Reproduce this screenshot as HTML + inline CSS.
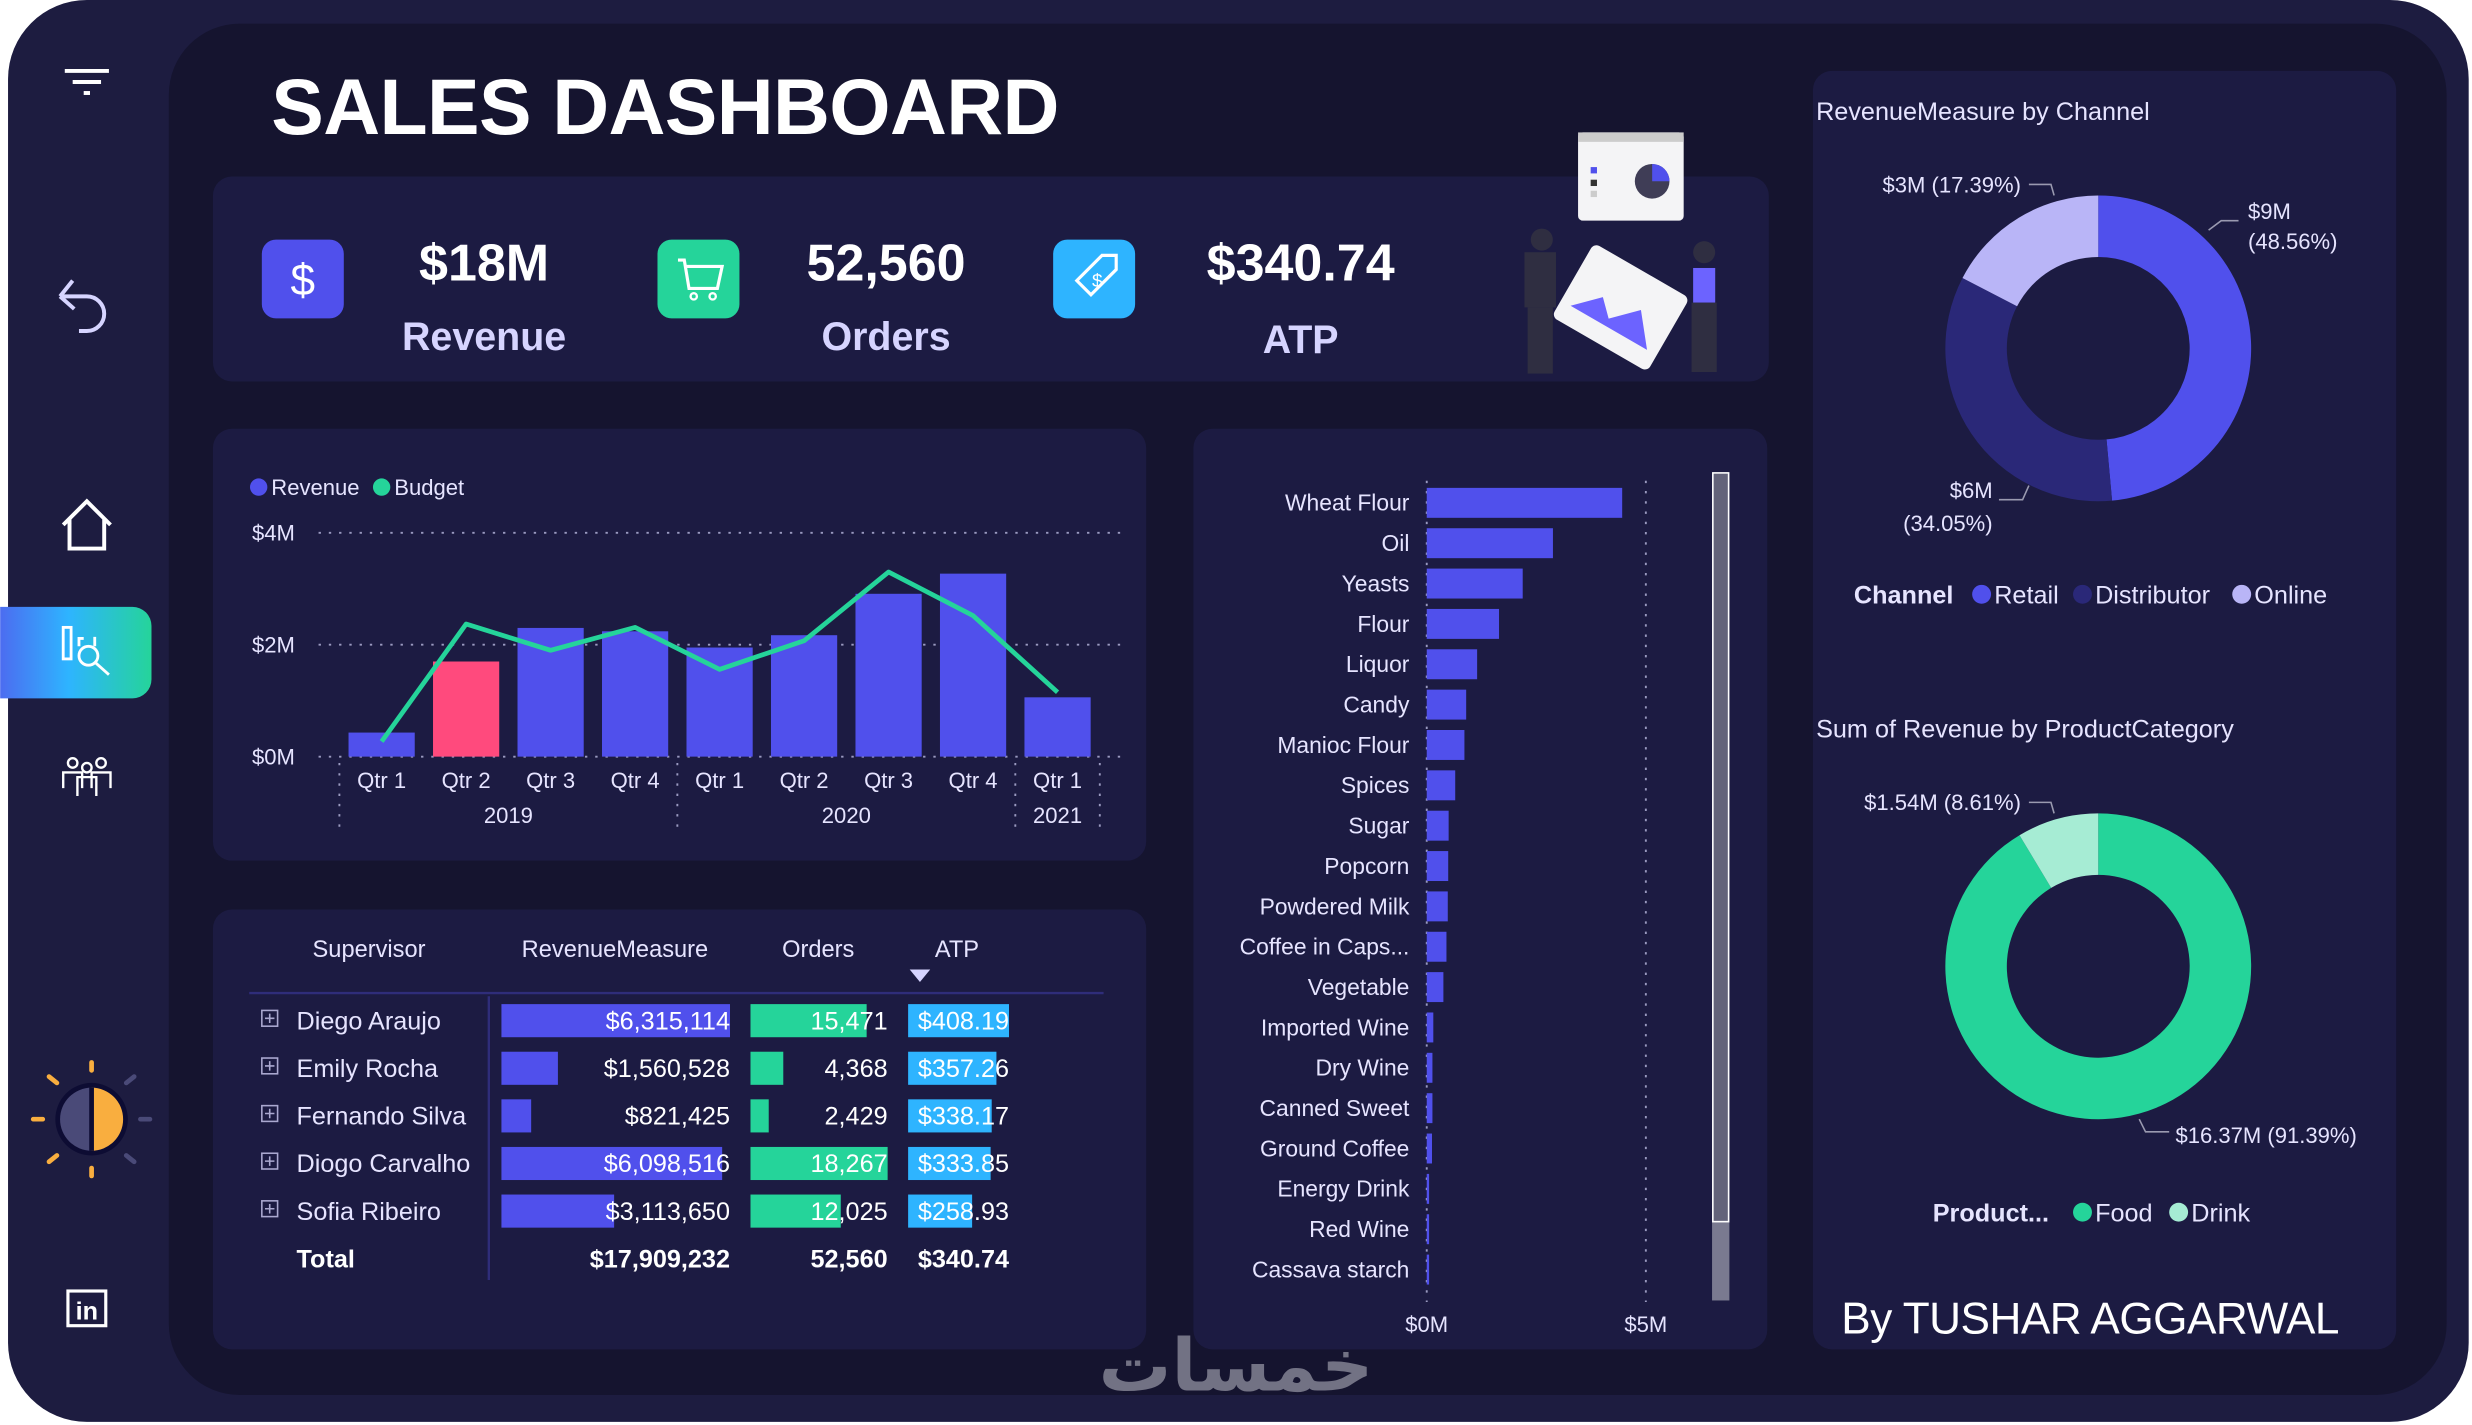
<!DOCTYPE html>
<html><head><meta charset="utf-8">
<style>
html,body{margin:0;padding:0;background:#fff;width:2472px;height:1425px;overflow:hidden}
svg{display:block}
text{font-family:"Liberation Sans","DejaVu Sans",sans-serif}
</style></head>
<body>
<svg id="dash" width="2472" height="1425" viewBox="0 0 1568 904" xmlns="http://www.w3.org/2000/svg">
<defs>
<linearGradient id="tabg" x1="0" x2="1"><stop offset="0" stop-color="#4c6cf0"/><stop offset="0.45" stop-color="#2eb4ff"/><stop offset="1" stop-color="#25d49a"/></linearGradient>
</defs>
<rect x="0" y="0" width="1568" height="904" fill="#ffffff"/>
<rect x="5" y="0" width="1561" height="902" rx="50" fill="#1d1c40"/>
<rect x="107" y="15" width="1445" height="870" rx="45" fill="#15142f"/>

<!-- sidebar -->
<g stroke="#fff" stroke-width="2.5">
<line x1="41" y1="45" x2="69" y2="45"/><line x1="46" y1="52" x2="64" y2="52"/><line x1="53" y1="59" x2="57" y2="59"/></g>
<g fill="none" stroke="#d6d4ff" stroke-width="2.5">
<path d="M38 188 L46 178 M38 188 L47 196 M38 188 H55 A11 11 0 0 1 55 210 H50"/></g>
<g fill="none" stroke="#fff" stroke-width="2.5">
<path d="M40 333 L55 318 L70 333 M44 329 V348 H66 V329"/></g>
<path d="M0 385 H84 A12 12 0 0 1 96 397 V431 A12 12 0 0 1 84 443 H0 Z" fill="url(#tabg)"/>
<g fill="none" stroke="#fff" stroke-width="1.8">
<rect x="40" y="398" width="5" height="20"/><circle cx="56" cy="416" r="6"/><line x1="60" y1="420" x2="69" y2="428"/><path d="M50 410 V405 H53 M60 410 V404"/></g>
<g fill="none" stroke="#fff" stroke-width="1.5">
<circle cx="46" cy="484" r="3"/><circle cx="55" cy="487" r="3"/><circle cx="64" cy="484" r="3"/>
<path d="M40 500 V490 H52 V500 M49 505 V493 H61 V505 M58 500 V490 H70 V500"/></g>
<g>
<circle cx="58" cy="710" r="23" fill="#0d0c33"/>
<path d="M58 690 A20 20 0 0 0 58 730 Z" fill="#4a4a78"/>
<path d="M58 690 A20 20 0 0 1 58 730 Z" fill="#f9ae3f"/>
<line x1="58" y1="690" x2="58" y2="730" stroke="#0d0c33" stroke-width="3"/>
<g stroke="#f9ae3f" stroke-width="3" stroke-linecap="round">
<line x1="58" y1="674" x2="58" y2="679"/><line x1="58" y1="741" x2="58" y2="746"/>
<line x1="21" y1="710" x2="27" y2="710"/><line x1="31" y1="683" x2="36" y2="687"/><line x1="31" y1="737" x2="36" y2="733"/></g>
<g stroke="#4a4a78" stroke-width="3" stroke-linecap="round">
<line x1="89" y1="710" x2="95" y2="710"/><line x1="80" y1="687" x2="85" y2="683"/><line x1="80" y1="733" x2="85" y2="737"/></g></g>
<g>
<rect x="43" y="819" width="24" height="22" fill="none" stroke="#fff" stroke-width="2"/>
<text x="55" y="837" font-size="16" font-weight="bold" fill="#fff" text-anchor="middle">in</text></g>

<!-- title -->
<text x="172" y="85" font-size="50" font-weight="bold" fill="#fff" textLength="500">SALES DASHBOARD</text>

<!-- KPI card -->
<rect x="135" y="112" width="987" height="130" rx="12" fill="#1c1b42"/>
<g>
<rect x="166" y="152" width="52" height="50" rx="9" fill="#5050ec"/>
<text x="192" y="187" font-size="28" fill="#fff" text-anchor="middle">$</text>
<text x="307" y="178" font-size="33" font-weight="bold" fill="#fff" text-anchor="middle">$18M</text>
<text x="307" y="222" font-size="25" font-weight="bold" fill="#d6d4ff" text-anchor="middle">Revenue</text></g>
<g>
<rect x="417" y="152" width="52" height="50" rx="9" fill="#25d49a"/>
<path d="M430 165 H434 L437 183 H455 L458 169 H435" fill="none" stroke="#fff" stroke-width="2"/>
<circle cx="440" cy="188" r="2" fill="none" stroke="#fff" stroke-width="1.5"/><circle cx="452" cy="188" r="2" fill="none" stroke="#fff" stroke-width="1.5"/>
<text x="562" y="178" font-size="33" font-weight="bold" fill="#fff" text-anchor="middle">52,560</text>
<text x="562" y="222" font-size="25" font-weight="bold" fill="#d6d4ff" text-anchor="middle">Orders</text></g>
<g>
<rect x="668" y="152" width="52" height="50" rx="9" fill="#2eb4ff"/>
<path d="M683 178 L699 162 H708 V171 L692 187 Z" fill="none" stroke="#fff" stroke-width="2"/>
<text x="696" y="182" font-size="12" fill="#fff" text-anchor="middle">$</text>
<text x="825" y="178" font-size="33" font-weight="bold" fill="#fff" text-anchor="middle">$340.74</text>
<text x="825" y="224" font-size="25" font-weight="bold" fill="#d6d4ff" text-anchor="middle">ATP</text></g>
<g>
<rect x="1001" y="84" width="67" height="56" rx="3" fill="#f4f4f6"/>
<rect x="1001" y="84" width="67" height="6" fill="#ccc"/>
<rect x="1009" y="106" width="4" height="4" fill="#5050ec"/><rect x="1009" y="114" width="4" height="4" fill="#333"/><rect x="1009" y="121" width="4" height="4" fill="#ccc"/>
<circle cx="1048" cy="115" r="11" fill="#3f3d56"/><path d="M1048 104 A11 11 0 0 1 1059 115 H1048 Z" fill="#5050ec"/>
<g transform="rotate(30 1028 195)"><rect x="993" y="168" width="70" height="54" rx="4" fill="#f4f4f6"/><path d="M1000 210 L1015 195 L1025 205 L1040 190 L1056 210 Z" fill="#6c63ff"/></g>
<rect x="967" y="160" width="20" height="35" fill="#2f2e41"/><rect x="969" y="195" width="16" height="42" fill="#2f2e41"/><circle cx="978" cy="152" r="7" fill="#2f2e41"/>
<rect x="1074" y="170" width="14" height="22" fill="#6c63ff"/><rect x="1073" y="192" width="16" height="44" fill="#2f2e41"/><circle cx="1081" cy="160" r="7" fill="#2f2e41"/>
</g>

<!-- combo chart card -->
<rect x="135" y="272" width="592" height="274" rx="12" fill="#1c1b42"/>
<g id="combo"></g>

<!-- table card -->
<rect x="135" y="577" width="592" height="279" rx="12" fill="#1c1b42"/>
<g id="table"></g>

<!-- product bar card -->
<rect x="757" y="272" width="364" height="584" rx="12" fill="#1c1b42"/>
<g id="hbar"></g>

<!-- right card -->
<rect x="1150" y="45" width="370" height="811" rx="12" fill="#1c1b42"/>
<text x="1152" y="76" font-size="16" fill="#e6e4ff">RevenueMeasure by Channel</text>
<g id="donut1"></g>
<text x="1152" y="468" font-size="16" fill="#e6e4ff">Sum of Revenue by ProductCategory</text>
<g id="donut2"></g>
<text x="1326" y="846" font-size="28" fill="#fff" text-anchor="middle" textLength="316">By TUSHAR AGGARWAL</text>
<text x="784" y="882" font-size="46" font-weight="bold" fill="#9a9aa8" opacity="0.7" text-anchor="middle">خمسات</text>
</svg>

<script>
// ---- combo chart data ----
const quarters = ["Qtr 1","Qtr 2","Qtr 3","Qtr 4","Qtr 1","Qtr 2","Qtr 3","Qtr 4","Qtr 1"];
const revenueM = [0.43,1.70,2.30,2.24,1.95,2.17,2.91,3.27,1.06];
const budgetM = [0.27,2.37,1.90,2.31,1.56,2.07,3.30,2.52,1.15];
const highlightIndex = 1;
const yTicks = [0,2,4];
const yTickLabels = ["$0M","$2M","$4M"];
const years = ["2019","2020","2021"];
const yearSpans = [[0,3],[4,7],[8,8]];

// ---- table data ----
const supervisors = ["Diego Araujo","Emily Rocha","Fernando Silva","Diogo Carvalho","Sofia Ribeiro"];
const supRevenue = [6315114,1560528,821425,6098516,3113650];
const supOrders = [15471,4368,2429,18267,12025];
const supAtp = [408.19,357.26,338.17,333.85,258.93];
const totals = ["$17,909,232","52,560","$340.74"];

// ---- product bar data ----
const products = ["Wheat Flour","Oil","Yeasts","Flour","Liquor","Candy","Manioc Flour","Spices","Sugar","Popcorn","Powdered Milk","Coffee in Caps...","Vegetable","Imported Wine","Dry Wine","Canned Sweet","Ground Coffee","Energy Drink","Red Wine","Cassava starch"];
const productRevM = [4.46,2.88,2.19,1.65,1.15,0.90,0.86,0.65,0.50,0.49,0.48,0.45,0.38,0.15,0.13,0.13,0.12,0.03,0.03,0.03];
const xTicksM = [0,5];
const xTickLabels = ["$0M","$5M"];

// ---- donut data ----
const channels = ["Retail","Distributor","Online"];
const channelShare = [48.56,34.05,17.39];
const channelLabels = [["$9M","(48.56%)"],["$6M","(34.05%)"],["$3M (17.39%)"]];
const categories = ["Food","Drink"];
const categoryShare = [91.39,8.61];
const categoryLabels = ["$16.37M (91.39%)","$1.54M (8.61%)"];

const NS="http://www.w3.org/2000/svg";
function mk(parent,tag,attrs,text){const e=document.createElementNS(NS,tag);for(const k in attrs)e.setAttribute(k,attrs[k]);if(text!==undefined)e.textContent=text;parent.appendChild(e);return e;}

// ===== combo chart =====
(function(){
const g=document.getElementById('combo');
const x0=242, step=53.6, bw=42, yBase=480, pxPerM=35.5;
const xs=i=>x0+i*step, ys=v=>yBase-v*pxPerM;
let l=mk(g,'circle',{cx:164,cy:309,r:5.5,fill:'#5050ec'});

l=mk(g,'text',{x:172,y:314,'font-size':14,fill:'#e6e4ff'},'Revenue');

l=mk(g,'circle',{cx:242,cy:309,r:5.5,fill:'#25d49a'});

l=mk(g,'text',{x:250,y:314,'font-size':14,fill:'#e6e4ff'},'Budget');

yTicks.forEach((t,i)=>{
 const y=ys(t);
 const gl=mk(g,'line',{x1:202,y1:y,x2:713,y2:y,stroke:'#9a9ac0','stroke-width':1.2,'stroke-dasharray':'1.5 5'});
 
 const tl=mk(g,'text',{x:187,y:y+5,'font-size':14,fill:'#e6e4ff','text-anchor':'end'},yTickLabels[i]);
 
});
revenueM.forEach((v,i)=>{
 const r=mk(g,'rect',{x:xs(i)-bw/2,y:ys(v),width:bw,height:v*pxPerM,fill:i===highlightIndex?'#ff4a7d':'#5050ec'});
 
 const t=mk(g,'text',{x:xs(i),y:500,'font-size':14,fill:'#e6e4ff','text-anchor':'middle'},quarters[i]);
 
});
const pts=budgetM.map((v,i)=>xs(i)+','+ys(v)).join(' ');
const pl=mk(g,'polyline',{points:pts,fill:'none',stroke:'#25d49a','stroke-width':3,'stroke-linejoin':'round'});

const seps=[];
yearSpans.forEach((s,i)=>{
 const a=xs(s[0])-step/2, b=xs(s[1])+step/2;
 seps.push(a); if(i===yearSpans.length-1) seps.push(b);
 const t=mk(g,'text',{x:(a+b)/2,y:522,'font-size':14,fill:'#e6e4ff','text-anchor':'middle'},years[i]);
 
});
seps.forEach(x=>{
 const s=mk(g,'line',{x1:x,y1:484,x2:x,y2:528,stroke:'#9a9ac0','stroke-width':1.2,'stroke-dasharray':'1.5 5'});
 
});
})();

// ===== table =====
(function(){
const g=document.getElementById('table');
const hdr=[["Supervisor",234],["RevenueMeasure",390],["Orders",519],["ATP",607]];
hdr.forEach(h=>{
 const t=mk(g,'text',{x:h[1],y:607,'font-size':15,fill:'#e6e4ff','text-anchor':'middle'},h[0]);
 
});
const ar=mk(g,'path',{d:'M577 615 L590 615 L583.5 623 Z',fill:'#d6d4ff'});

let ln=mk(g,'line',{x1:158,y1:630,x2:700,y2:630,stroke:'#2f2d7a','stroke-width':1.5});

ln=mk(g,'line',{x1:310,y1:632,x2:310,y2:812,stroke:'#2f2d7a','stroke-width':1.5});

const maxR=Math.max(...supRevenue), maxO=Math.max(...supOrders), maxA=Math.max(...supAtp);
const fmt=n=>n.toLocaleString('en-US');
supervisors.forEach((n,i)=>{
 const cy=647+i*30.2, top=cy-10, h=21;
 const ex=mk(g,'g',{});
 
 mk(ex,'rect',{x:166,y:cy-6,width:10,height:10,fill:'none',stroke:'#aaa8d0','stroke-width':1});
 mk(ex,'path',{d:`M168 ${cy-1} H174 M171 ${cy-4} V${cy+2}`,stroke:'#aaa8d0','stroke-width':1});
 const nm=mk(g,'text',{x:188,y:cy+6,'font-size':16,fill:'#e6e4ff'},n);
 
 const rb=mk(g,'rect',{x:318,y:top,width:145*supRevenue[i]/maxR,height:h,fill:'#5050ec'});
 
 const rt=mk(g,'text',{x:463,y:cy+6,'font-size':16,fill:'#fff','text-anchor':'end'},'$'+fmt(supRevenue[i]));
 
 const ob=mk(g,'rect',{x:476,y:top,width:87*supOrders[i]/maxO,height:h,fill:'#25d49a'});
 
 const ot=mk(g,'text',{x:563,y:cy+6,'font-size':16,fill:'#fff','text-anchor':'end'},fmt(supOrders[i]));
 
 const ab=mk(g,'rect',{x:576,y:top,width:64*supAtp[i]/maxA,height:h,fill:'#2eb4ff'});
 
 const at=mk(g,'text',{x:640,y:cy+6,'font-size':16,fill:'#fff','text-anchor':'end'},'$'+supAtp[i].toFixed(2));
 
});
const tl=mk(g,'text',{x:188,y:804,'font-size':16,'font-weight':'bold',fill:'#fff'},'Total');

[[463,0],[563,1],[640,2]].forEach(p=>{
 const t=mk(g,'text',{x:p[0],y:804,'font-size':16,'font-weight':'bold',fill:'#fff','text-anchor':'end'},totals[p[1]]);
 
});
})();

// ===== horizontal bar chart =====
(function(){
const g=document.getElementById('hbar');
const x0=905, pxPerM=27.8, y0=319, step=25.6, bh=19;
const xs=v=>x0+v*pxPerM;
xTicksM.forEach((t,i)=>{
 const gl=mk(g,'line',{x1:xs(t),y1:305,x2:xs(t),y2:826,stroke:'#9a9ac0','stroke-width':1.2,'stroke-dasharray':'1.5 5'});
 
 const tl=mk(g,'text',{x:xs(t),y:845,'font-size':14,fill:'#e6e4ff','text-anchor':'middle'},xTickLabels[i]);
 
});
products.forEach((p,i)=>{
 const cy=y0+i*step;
 const t=mk(g,'text',{x:894,y:cy+5,'font-size':14.5,fill:'#e6e4ff','text-anchor':'end'},p);
 
 const r=mk(g,'rect',{x:x0,y:cy-bh/2,width:Math.max(1.5,productRevM[i]*pxPerM),height:bh,fill:'#5050ec'});
 
});
const tr=mk(g,'rect',{x:1086,y:300,width:11,height:525,fill:'#7a7a90'});

const th=mk(g,'rect',{x:1086.5,y:300,width:10,height:475,fill:'#63637a',stroke:'#fff','stroke-width':1});

})();

// ===== donuts =====
function donut(gid,cx,cy,R,r,shares,colors,names){
 const g=document.getElementById(gid);
 const tot=shares.reduce((a,b)=>a+b,0);
 let a=0;
 shares.forEach((s,i)=>{
  const a1=a, a2=a+s/tot*2*Math.PI; a=a2;
  const P=(rad,ang)=>[cx+rad*Math.sin(ang),cy-rad*Math.cos(ang)];
  const large=(a2-a1)>Math.PI?1:0;
  const [x1,y1]=P(R,a1),[x2,y2]=P(R,a2),[x3,y3]=P(r,a2),[x4,y4]=P(r,a1);
  const p=mk(g,'path',{d:`M${x1} ${y1} A${R} ${R} 0 ${large} 1 ${x2} ${y2} L${x3} ${y3} A${r} ${r} 0 ${large} 0 ${x4} ${y4} Z`,fill:colors[i]});
  
  
 });
}
donut('donut1',1331,221,97,58,channelShare,['#5050ec','#2a2878','#b9b5f7'],channels);
donut('donut2',1331,613,97,58,categoryShare,['#25d49a','#a6ecd4'],categories);

(function(){
const g1=document.getElementById('donut1');
const lc='#9a9ab0';
[['M1401 146 L1409 140 H1420'],['M1287 308 L1283 317 H1268'],['M1303 124 L1301 117 H1287']].forEach(d=>{
 const l=mk(g1,'path',{d:d[0],fill:'none',stroke:lc,'stroke-width':1});
 
});
let t=mk(g1,'text',{x:1426,y:139,'font-size':14,fill:'#e6e4ff'},channelLabels[0][0]);
t=mk(g1,'text',{x:1426,y:158,'font-size':14,fill:'#e6e4ff'},channelLabels[0][1]);
t=mk(g1,'text',{x:1264,y:316,'font-size':14,fill:'#e6e4ff','text-anchor':'end'},channelLabels[1][0]);
t=mk(g1,'text',{x:1264,y:337,'font-size':14,fill:'#e6e4ff','text-anchor':'end'},channelLabels[1][1]);
t=mk(g1,'text',{x:1282,y:122,'font-size':14,fill:'#e6e4ff','text-anchor':'end'},channelLabels[2][0]);
t=mk(g1,'text',{x:1176,y:383,'font-size':16,'font-weight':'bold',fill:'#e6e4ff'},'Channel');
const cc=['#5050ec','#2a2878','#b9b5f7'];const lx=[1257,1321,1422];
channels.forEach((c,i)=>{
 const d=mk(g1,'circle',{cx:lx[i],cy:377,r:6,fill:cc[i]});
 const tt=mk(g1,'text',{x:lx[i]+8,y:383,'font-size':16,fill:'#e6e4ff'},c);
});
const g2=document.getElementById('donut2');
[['M1303 516 L1301 509 H1287'],['M1357 710 L1361 718 H1376']].forEach(d=>{
 const l=mk(g2,'path',{d:d[0],fill:'none',stroke:lc,'stroke-width':1});
 
});
t=mk(g2,'text',{x:1282,y:514,'font-size':14,fill:'#e6e4ff','text-anchor':'end'},categoryLabels[1]);
t=mk(g2,'text',{x:1380,y:725,'font-size':14,fill:'#e6e4ff'},categoryLabels[0]);
t=mk(g2,'text',{x:1226,y:775,'font-size':16,'font-weight':'bold',fill:'#e6e4ff'},'Product...');
const pc=['#25d49a','#a6ecd4'];const px=[1321,1382];
categories.forEach((c,i)=>{
 const d=mk(g2,'circle',{cx:px[i],cy:769,r:6,fill:pc[i]});
 const tt=mk(g2,'text',{x:px[i]+8,y:775,'font-size':16,fill:'#e6e4ff'},c);
});
})();
</script>
</body></html>
